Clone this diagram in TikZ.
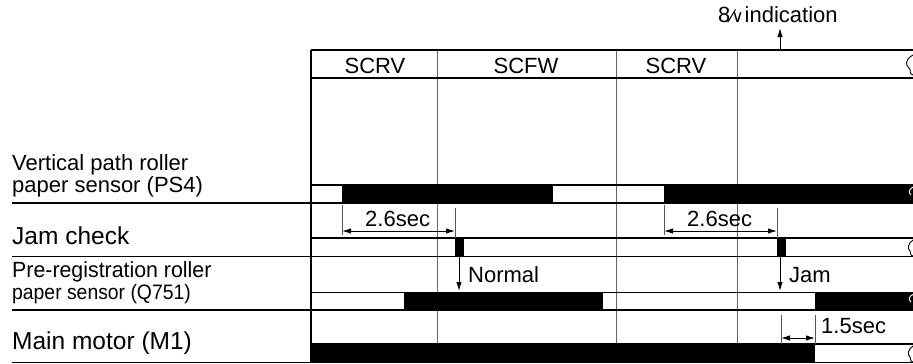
\documentclass[tikz,border=0pt]{standalone}
\usepackage{fontspec}
\setmainfont{Liberation Sans}
\newfontfamily\dvs{DejaVu Sans}
\usetikzlibrary{arrows.meta}
\tikzset{
  lbl/.style={inner sep=0pt, anchor=base west, font=\fontsize{22}{22}\selectfont},
  biglbl/.style={inner sep=0pt, anchor=base west, font=\fontsize{24.5}{24.5}\selectfont},
  hdr/.style={inner sep=0pt, anchor=base, font=\fontsize{22}{22}\selectfont},
  sep/.style={line width=1.4pt, black},
  boxline/.style={line width=1.1pt, black},
  grid/.style={line width=1pt, black!60},
  ext/.style={line width=0.9pt, black!65},
  dim/.style={line width=1pt, {Latex[length=9pt,width=5.5pt]}-{Latex[length=9pt,width=5.5pt]}},
  sig/.style={line width=1pt, -{Latex[length=9pt,width=5.5pt]}},
  brk/.style={line width=0.9pt},
}
\begin{document}
\begin{tikzpicture}[x=1pt,y=-1pt]
\useasboundingbox (0,0) rectangle (913,364);

% grid vertical lines
\coordinate (g0t) at (311,50);  \coordinate (g0b) at (311,363);
\coordinate (g1t) at (437,50);  \coordinate (g1b) at (437,362);
\coordinate (g2t) at (616,50);  \coordinate (g2b) at (616,362);
\coordinate (g3t) at (737,50);  \coordinate (g3b) at (737,362);
\draw[grid] (g1t) -- (g1b);
\draw[grid] (g2t) -- (g2b);
\draw[grid] (g3t) -- (g3b);

% header
\coordinate (h0l) at (311,50); \coordinate (h0r) at (913,50);
\coordinate (h1l) at (311,78); \coordinate (h1r) at (913,78);
\draw[sep] (h0l) -- (h0r);
\draw[sep] (h1l) -- (h1r);
\node[hdr] (s1) at (375,73) {SCRV};
\node[hdr] (s2) at (526,73) {SCFW};
\node[hdr] (s3) at (676,73) {SCRV};

% indication
\coordinate (ia) at (780,50); \coordinate (ib) at (780,28);
\draw[sig] (ia) -- (ib);
\node[lbl] (ind) at (718,23) {8{\dvs\fontsize{17}{17}\selectfont ⁄\kern-2pt∨}\kern1pt indication};

% waveform fills
\fill (342,185) rectangle (553,203);
\fill (664,185) rectangle (913,203);
\fill (455,238) rectangle (464,256);
\fill (777,238) rectangle (786,256);
\fill (404,292.7) rectangle (603,310);
\fill (815,292.7) rectangle (913,310);
\fill (311,344) rectangle (815,362);

% waveform box top lines
\coordinate (p1l) at (311,185); \coordinate (p1r) at (913,185);
\coordinate (j1l) at (311,238); \coordinate (j1r) at (913,238);
\coordinate (q1l) at (311,292.7); \coordinate (q1r) at (913,292.7);
\coordinate (m1l) at (311,344); \coordinate (m1r) at (913,344);
\draw[boxline] (p1l) -- (p1r);
\draw[boxline] (j1l) -- (j1r);
\draw[boxline] (q1l) -- (q1r);
\draw[boxline] (m1l) -- (m1r);

% separators
\coordinate (r1l) at (12,203); \coordinate (r1r) at (913,203);
\coordinate (r2l) at (12,256.5); \coordinate (r2r) at (913,256.5);
\coordinate (r3l) at (12,310); \coordinate (r3r) at (913,310);
\coordinate (r4l) at (12,362.5); \coordinate (r4r) at (913,362.5);
\draw[sep] (r1l) -- (r1r);
\draw[sep] (r2l) -- (r2r);
\draw[sep] (r3l) -- (r3r);
\draw[sep] (r4l) -- (r4r);
\draw[sep] (g0t) -- (g0b);

% labels
\node[lbl] (l1a) at (12,170) {Vertical path roller};
\node[lbl] (l1b) at (12,192) {paper sensor (PS4)};
\node[biglbl] (l2) at (12,244) {Jam check};
\node[lbl] (l3a) at (12,277) {\scalebox{0.97}[1]{Pre-registration roller}};
\node[lbl] (l3b) at (12,299) {\scalebox{0.88}[0.95]{paper sensor (Q751)}};
\node[biglbl] (l4) at (12,349) {Main motor (M1)};

% 2.6sec dimensions
\coordinate (d1a) at (342,205); \coordinate (d1b) at (342,235);
\coordinate (d1c) at (455,208); \coordinate (d1d) at (455,238);
\draw[ext] (d1a) -- (d1b);
\draw[ext] (d1c) -- (d1d);
\coordinate (d1l) at (342,231); \coordinate (d1r) at (455,231);
\draw[dim] (d1l) -- (d1r);
\node[lbl] (t1) at (365,226) {2.6sec};

\coordinate (d2a) at (664,205); \coordinate (d2b) at (664,235);
\coordinate (d2c) at (777,208); \coordinate (d2d) at (777,238);
\draw[ext] (d2a) -- (d2b);
\draw[ext] (d2c) -- (d2d);
\coordinate (d2l) at (664,231); \coordinate (d2r) at (777,231);
\draw[dim] (d2l) -- (d2r);
\node[lbl] (t2) at (687,226) {2.6sec};

% Normal / Jam arrows
\coordinate (na) at (459,256); \coordinate (nb) at (459,291);
\draw[sig] (na) -- (nb);
\node[lbl] (tn) at (468,282) {Normal};
\coordinate (ja) at (780,256); \coordinate (jb) at (780,291);
\draw[sig] (ja) -- (jb);
\node[lbl] (tj) at (789,282) {Jam};

% 1.5sec dimension
\coordinate (e1a) at (781,315); \coordinate (e1b) at (781,344);
\coordinate (e2a) at (815,315); \coordinate (e2b) at (815,344);
\draw[ext] (e1a) -- (e1b);
\draw[ext] (e2a) -- (e2b);
\coordinate (e3l) at (781,338); \coordinate (e3r) at (815,338);
\draw[dim] (e3l) -- (e3r);
\node[lbl] (t3) at (821,333) {1.5sec};

% break marks at right edge
\draw[brk] (913,55) .. controls (904,60) and (906,66) .. (909,68) .. controls (912,71) and (908,73) .. (913,75);
\draw[brk,white] (913,187) .. controls (909,189) and (908,193) .. (911,195);
\draw[brk] (913,240) .. controls (908,243) and (907,249) .. (910,251) .. controls (912,253) and (909,255) .. (913,256);
\draw[brk,white] (913,294.5) .. controls (909,296) and (908,300) .. (911,302);
\draw[brk] (913,346) .. controls (908,349) and (907,355) .. (910,357) .. controls (912,359) and (909,361) .. (913,362);
\end{tikzpicture}
\end{document}
